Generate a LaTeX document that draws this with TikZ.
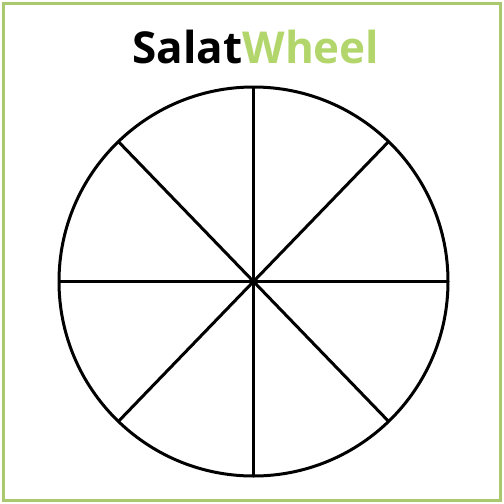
\documentclass[tikz,border=0pt]{standalone}
\usepackage{fontspec}
\setmainfont{Open Sans}
\usetikzlibrary{calc}
\definecolor{framegreen}{RGB}{170,200,110}
\definecolor{titlegreen}{RGB}{178,214,108}

\begin{document}
\begin{tikzpicture}[x=1pt,y=-1pt]
\useasboundingbox (0,0) rectangle (504,504);
\draw[framegreen,line width=3pt] (3.5,3.5) rectangle (500.5,500.5);

\node[anchor=base,inner sep=0pt,font=\fontsize{44}{47}\selectfont\bfseries] (title) at (256,63)
  {Salat\textcolor{titlegreen}{Wheel}};

\coordinate (c) at (253.5,281.5);
\draw[line width=3pt] (c) circle[radius=194.5pt];
\foreach \a in {0,46,90,134} {
  \draw[line width=3pt] ($(c)+(\a:194.5pt)$) -- ($(c)+(\a+180:194.5pt)$);
}
\end{tikzpicture}
\end{document}
